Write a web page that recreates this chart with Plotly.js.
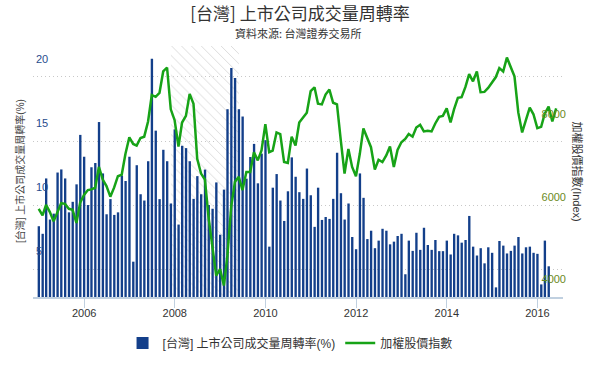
<!DOCTYPE html>
<html>
<head>
<meta charset="utf-8">
<script src="https://cdn.plot.ly/plotly-3.0.1.min.js"></script>
<style>html,body{margin:0;padding:0;background:#fff;}#chart{width:600px;height:370px;}</style>
</head>
<body>
<div id="chart"></div>
<script>
// Monthly turnover rate (%) of listed companies, Jan 2005 - Apr 2016
const turnoverStart = [2005, 1];
const turnover = [
 8.38, 7.79, 12.1, 8.9, 9.36, 12.56, 12.8, 12.1, 9.46, 10.28, 11.64, 15.49,
 13.79, 10.03, 12.97, 13.3, 16.49, 12.49, 9.31, 10.49, 9.26, 9.46, 12.33, 11.9,
 13.79, 5.62, 13.13, 10.87, 10.38, 13.44, 21.41, 15.82, 10.49, 14.33, 13.44, 10.15,
 15.92, 8.51, 14.64, 14.46, 13.44, 10.51, 12.28, 10.87, 12.79, 10.03, 9.74, 11.79,
 7.72, 11.23, 17.49, 20.69, 19.92, 17.49, 16.92, 12.08, 13.77, 14.79, 11.72, 14.03,
 15.08, 6.79, 11.38, 12.44, 10.38, 8.79, 11.1, 13.74, 12.23, 11.03, 10.51, 12.87,
 10.79, 8.33, 11.38, 8.87, 9.1, 8.95, 10.51, 14.1, 10.95, 8.9, 10.15, 7.54,
 6.59, 12.49, 10.59, 7.38, 8.03, 6.67, 7.26, 8.18, 8.03, 6.97, 7.18, 7.62,
 7.79, 4.64, 7.26, 6.46, 7.87, 6.54, 8.26, 6.92, 6.54, 7.31, 6.44, 6.44,
 7.26, 6.18, 7.79, 7.67, 7.1, 7.31, 9.18, 6.79, 6.1, 6.67, 5.49, 6.74,
 6.31, 3.62, 7.23, 6.87, 6.26, 6.46, 6.87, 7.54, 6.26, 6.74, 6.79, 6.31,
 6.23, 3.85, 7.26, 5.26
];
// TAIEX month-end close, Dec 2004 - May 2016
const indexStart = [2004, 12];
const taiex = [
 6145, 5985, 6241, 6065, 5840, 6081, 6281, 6265, 6145, 6121, 5800, 6297,
 6481, 6602, 6618, 6658, 7163, 6858, 6698, 6441, 6666, 6938, 6978, 7483,
 7884, 7724, 7684, 7868, 7900, 8269, 8910, 8870, 8966, 9487, 9583, 8565,
 8301, 7660, 8245, 8405, 8942, 8702, 7363, 7002, 6858, 5921, 5240, 4519,
 4679, 4278, 5000, 6201, 6802, 6922, 6602, 7042, 7042, 7523, 7323, 7563,
 8205, 7523, 7563, 8004, 7964, 7283, 7259, 7900, 7684, 8245, 8365, 8485,
 9006, 9102, 8702, 8686, 8926, 9046, 8726, 8686, 7804, 7002, 7603, 7163,
 6938, 7483, 8101, 7844, 7644, 7099, 7339, 7283, 7443, 7660, 7163, 7579,
 7764, 7844, 7964, 7900, 8124, 8189, 8028, 8044, 8028, 8221, 8381, 8405,
 8589, 8245, 8565, 8846, 8862, 9110, 9423, 9247, 9487, 8982, 8990, 9086,
 9230, 9351, 9567, 9487, 9824, 9607, 9367, 8485, 8004, 8301, 8606, 8445,
 8108, 8140, 8461, 8630, 8269, 8589
];
const leftTicks = [5, 10, 15, 20];
const rightTicks = [4000, 6000, 8000];
const bandStart = '2007-12-01';
const bandEnd = '2009-06-01';

const seriesTurnoverName = '[台灣] 上市公司成交量周轉率(%)';
const seriesIndexName = '加權股價指數';

function pad(n){return (n<10?'0':'')+n;}
function monthStarts(start, n){
  const out=[]; for(let i=0;i<n;i++){const d=new Date(Date.UTC(start[0], start[1]-1+i, 1)); out.push(d.getUTCFullYear()+'-'+pad(d.getUTCMonth()+1)+'-01');} return out;
}
function monthEnds(start, n){
  const out=[]; for(let i=0;i<n;i++){const d=new Date(Date.UTC(start[0], start[1]+i, 0)); out.push(d.getUTCFullYear()+'-'+pad(d.getUTCMonth()+1)+'-'+pad(d.getUTCDate()));} return out;
}
const barX = monthStarts(turnoverStart, turnover.length);
const lineX = monthEnds(indexStart, taiex.length);

const DAY = 86400000;
const bs = Date.parse(bandStart), be = Date.parse(bandEnd);
const bandMid = new Date((bs+be)/2).toISOString().slice(0,10);

const cjk = '"Liberation Sans", "Noto Sans CJK TC", sans-serif';

const traces = [
 {type:'bar', x:[bandMid], y:[100], base:[0], width:[be-bs], yaxis:'y', xaxis:'x',
  marker:{color:'rgba(0,0,0,0)', line:{width:0}, pattern:{shape:'\\', fgcolor:'#dcdcdc', bgcolor:'rgba(0,0,0,0)', size:7, solidity:0.14}},
  showlegend:false, hoverinfo:'skip'},
 {type:'bar', name:seriesTurnoverName, x:barX, y:turnover, width:19*DAY,
  marker:{color:'#133f8a', line:{width:0}}, yaxis:'y'},
 {type:'scatter', mode:'lines', name:seriesIndexName, x:lineX, y:taiex, yaxis:'y2',
  line:{color:'#17a317', width:2.5}}
];

const layout = {
 width:600, height:370,
 margin:{l:33, r:37, t:46, b:70},
 paper_bgcolor:'#fff', plot_bgcolor:'#fff',
 font:{family:cjk, color:'#333'},
 barmode:'overlay',
 title:{text:'[台灣] 上市公司成交量周轉率', x:0.5, xanchor:'center', y:1-14/370, yanchor:'middle',
   font:{family:'"Noto Sans CJK TC", sans-serif', size:17, color:'#333'}},
 xaxis:{type:'date', range:['2004-11-15','2016-07-25'], tick0:'2006-01-01', dtick:'M24', tickformat:'%Y',
   ticks:'outside', ticklen:9, tickwidth:1, tickcolor:'#c0d0e0', showline:true, linecolor:'#c0d0e0', linewidth:2,
   ticklabelstandoff:-4,
   showgrid:false, zeroline:false, tickfont:{size:11, color:'#333'}},
 yaxis:{range:[2.87, 22.41], tickvals:leftTicks, ticklabelposition:'inside', ticklabelshift:-18,
   showgrid:true, gridcolor:'#c8c8c8', griddash:'1px,3px', gridwidth:1, zeroline:false, showline:false,
   tickfont:{size:11, color:'#274b8d'}},
 yaxis2:{overlaying:'y', side:'right', range:[4000, 10106], tickvals:rightTicks, ticklabelposition:'inside',
   ticklabelshift:-18, ticklabelstandoff:-6, showgrid:false, zeroline:false, showline:false,
   tickfont:{size:11, color:'#6b8a1e'}},
 legend:{orientation:'h', x:0.485, xanchor:'center', y:-0.183, yanchor:'middle', font:{size:12, color:'#333'}},
 showlegend:true,
 annotations:[
  {text:'資料來源: 台灣證券交易所', xref:'paper', yref:'paper', x:0.5, y:1+13/254, xanchor:'center', yanchor:'middle',
   showarrow:false, font:{family:'"Noto Sans CJK TC", sans-serif', size:11, color:'#333'}},
  {text:'[台灣] 上市公司成交量周轉率(%)', xref:'paper', yref:'paper', x:(19.5-33)/530, y:0.5, textangle:-90,
   xanchor:'center', yanchor:'middle', showarrow:false, font:{size:10, color:'#444'}},
  {text:'加權股價指數(Index)', xref:'paper', yref:'paper', x:(577-33)/530, y:0.5, textangle:90,
   xanchor:'center', yanchor:'middle', showarrow:false, font:{size:11, color:'#333'}}
 ]
};
Plotly.newPlot('chart', traces, layout, {displayModeBar:false, staticPlot:true});
</script>
</body>
</html>
